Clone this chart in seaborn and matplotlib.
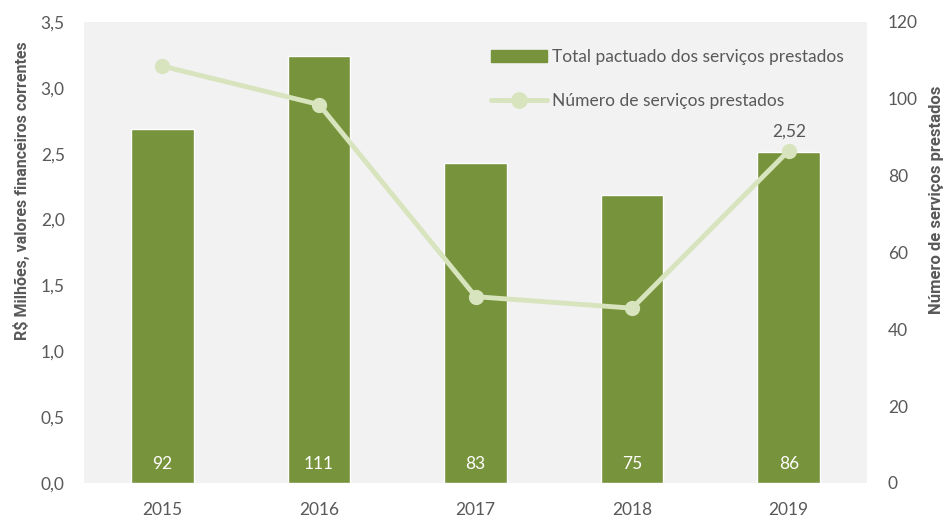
import numpy as np
import pandas as pd
import seaborn as sns
import matplotlib.pyplot as plt
from matplotlib.patches import Patch
from matplotlib.lines import Line2D

years = ["2015", "2016", "2017", "2018", "2019"]
total_pactuado = [2.69, 3.24, 2.43, 2.19, 2.51]   # R$ milhões
num_servicos = [108.5, 98.5, 48.5, 45.5, 86.5]
bar_labels = ["92", "111", "83", "75", "86"]

bar_color = "#77933C"
line_color = "#D7E4BD"
text_color = "#595959"

sns.set_theme(style="white")
plt.rcParams["font.family"] = ["Lato", "DejaVu Sans"]

df = pd.DataFrame({"ano": years, "total": total_pactuado, "num": num_servicos})

fig = plt.figure(figsize=(9.46, 5.18), dpi=100)
ax = fig.add_axes([0.089, 0.0676, 0.8275, 0.89])
ax.set_facecolor("#F2F2F2")

sns.barplot(data=df, x="ano", y="total", color=bar_color, width=0.4,
            saturation=1, ax=ax)
ax.set_ylim(0, 3.5)
ax.set_xlim(-0.5, 4.5)
ax.set_yticks(np.arange(0, 3.51, 0.5))
ax.set_yticklabels([f"{v:.1f}".replace(".", ",") for v in np.arange(0, 3.51, 0.5)])
ax.set_xlabel("")
ax.set_ylabel("R$ Milhões, valores financeiros correntes", fontsize=11.5,
              fontweight="bold", family=["Roboto", "DejaVu Sans"],
              color=text_color)
ax.yaxis.set_label_coords(-0.069, 0.633)
ax.tick_params(axis="y", labelsize=12.5, colors=text_color, length=0, pad=14)
ax.tick_params(axis="x", labelsize=12.5, colors=text_color, length=0, pad=14)
for s in ax.spines.values():
    s.set_visible(False)

for i, lab in enumerate(bar_labels):
    ax.text(i, 0.08, lab, ha="center", va="bottom", color="white", fontsize=12.5)

ax2 = ax.twinx()
sns.lineplot(data=df, x="ano", y="num", color=line_color, linewidth=3.5,
             marker="o", markersize=11, markeredgewidth=0, sort=False, ax=ax2)
ax2.set_ylim(0, 120)
ax2.set_yticks(range(0, 121, 20))
ax2.set_xlabel("")
ax2.set_ylabel("Número de serviços prestados", fontsize=12, fontweight="bold",
               family=["Roboto", "DejaVu Sans"], color=text_color)
ax2.yaxis.set_label_coords(1.079, 0.615)
ax2.tick_params(axis="y", labelsize=12.5, colors=text_color, length=0, pad=15)
for s in ax2.spines.values():
    s.set_visible(False)

ax2.text(4, num_servicos[4] + 3, "2,52", ha="center", va="bottom",
         color=text_color, fontsize=12.5)

handles = [Patch(color=bar_color),
           Line2D([0], [0], color=line_color, lw=3.5, marker="o", markersize=11)]
ax2.legend(handles, ["Total pactuado dos serviços prestados",
                     "Número de serviços prestados"],
           loc="upper left", bbox_to_anchor=(0.5, 0.975), frameon=False,
           fontsize=12.5, labelcolor=text_color, handlelength=3.2,
           handletextpad=0.3, labelspacing=1.6)

fig.savefig("out.png", dpi=100)
